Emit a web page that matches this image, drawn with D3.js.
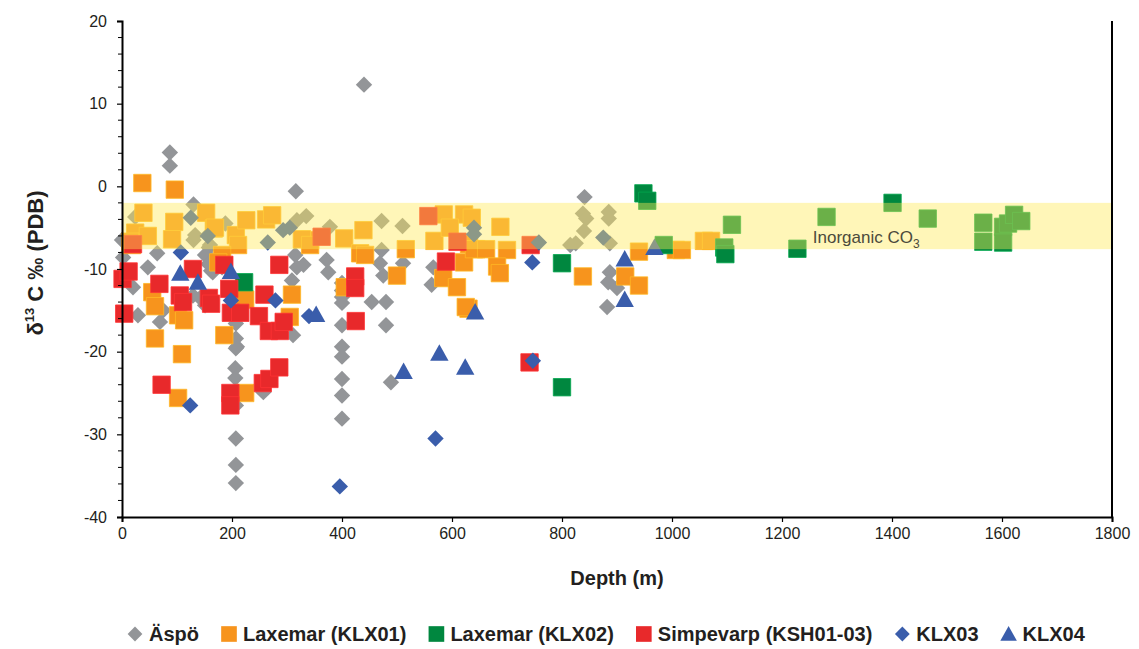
<!DOCTYPE html>
<html>
<head>
<meta charset="utf-8">
<script src="https://cdn.jsdelivr.net/npm/d3@7"></script>
<style>
  html, body { margin: 0; padding: 0; background: #ffffff; }
  svg { display: block; font-family: Arial, "Liberation Sans", sans-serif; }
</style>
</head>
<body>
<svg id="chart" width="1139" height="649"></svg>
<script>
// δ13C of fracture calcites / DIC versus depth, Simpevarp area
// Each series: [depth (m), δ13C ‰ PDB]
const aspo = [
  [87, 4.1], [87, 2.5], [316, -0.6], [440, 12.3], [841, -1.3],
  [130, -2.2], [24, -3.7], [0, -6.5], [2, -8.6], [130, -6.5], [160, -7.1], [188, -4.5],
  [64, -8.1], [155, -8.3], [133, -5.9], [156, -5.9], [158, -7.4], [335, -3.6], [318, -4.1],
  [315, -8.3], [318, -9.8], [151, -8.3], [162, -10.2],
  [20, -12.2], [47, -9.8], [29, -15.6], [69, -16.4], [75, -15.0], [157, -9.4], [165, -10.4],
  [142, -13.5], [129, -13.2], [151, -14.4], [182, -9.8], [209, -19.4], [206, -22.0],
  [206, -23.2], [207, -16.6], [207, -18.4], [207, -19.6], [207, -26.5], [207, -30.5],
  [207, -33.7], [207, -35.9], [257, -24.9], [311, -18.0], [309, -11.4], [375, -10.4],
  [400, -11.7], [400, -12.6], [400, -13.4], [400, -14.1], [400, -16.8], [400, -19.4],
  [400, -20.6], [400, -23.3], [400, -25.3], [400, -28.1], [454, -14.0], [480, -14.0],
  [480, -16.8], [489, -23.7], [563, -11.9], [475, -10.8], [372, -8.9], [469, -9.3],
  [511, -9.3], [330, -9.5], [566, -9.8], [472, -4.2], [510, -4.8], [378, -4.9],
  [472, -7.7], [838, -3.3], [844, -3.9], [840, -5.4], [885, -3.1], [885, -3.9], [815, -7.1],
  [825, -6.9], [887, -6.9], [887, -10.4], [884, -11.6], [900, -12.3], [882, -14.6]
];
const klx01 = [
  [37, 0.4], [96, -0.4], [39, -3.2], [95, -4.3], [153, -3.2], [167, -5.1], [24, -5.6],
  [47, -6.0], [15, -6.7], [18, -7.1], [91, -6.4], [55, -12.8], [60, -14.5], [60, -18.4],
  [102, -15.6], [113, -16.2], [109, -20.3], [102, -25.6], [186, -18.0], [220, -12.8],
  [309, -13.1], [305, -15.8], [224, -25.0], [224, -13.7], [405, -12.2], [500, -10.8],
  [584, -11.1], [609, -12.2], [630, -14.8], [342, -6.5], [439, -5.3], [404, -6.3],
  [433, -8.1], [442, -8.3], [516, -7.6], [568, -6.6], [585, -3.4], [622, -3.4], [636, -3.8],
  [596, -5.0], [631, -7.0], [644, -7.6], [622, -9.2], [688, -4.9], [700, -7.7], [640, -7.6],
  [662, -7.6], [682, -9.7], [687, -10.5], [625, -14.6], [838, -10.9], [915, -10.9],
  [940, -12.0], [940, -7.9], [1007, -7.7], [1018, -7.7], [1058, -6.6], [1071, -6.6],
  [207, -5.9], [211, -7.1], [226, -4.1], [262, -4.0], [273, -3.5], [327, -6.4], [342, -7.1],
  [182, -8.3], [175, -9.2], [169, -5.0]
];
const klx02 = [
  [222, -11.6], [948, -0.85], [955, -1.75], [800, -24.3], [800, -9.3], [985, -7.1],
  [1109, -4.65], [1095, -7.4], [1097, -8.2], [1228, -7.55], [1281, -3.7], [1401, -2.0],
  [1465, -3.9], [1566, -4.4], [1566, -6.7], [1602, -4.9], [1602, -6.8], [1611, -4.5],
  [1622, -3.45], [1635, -4.2]
];
const simpevarp = [
  [1, -11.2], [12, -10.3], [4, -15.4], [68, -11.8], [105, -13.2], [111, -14.0], [129, -10.0],
  [158, -13.5], [162, -14.2], [186, -9.5], [195, -12.4], [198, -15.3], [215, -15.3],
  [72, -24.0], [197, -25.0], [197, -26.5], [256, -23.8], [268, -23.3], [286, -21.9],
  [259, -13.1], [249, -15.7], [267, -17.5], [287, -17.5], [294, -16.4], [286, -9.5],
  [424, -10.9], [424, -12.3], [425, -16.3], [589, -9.1], [557, -3.6], [610, -6.7],
  [363, -6.1], [743, -7.1], [741, -21.3], [20, -7.0]
];
const klx03 = [
  [124, -26.5], [198, -13.8], [279, -13.8], [340, -15.7], [570, -30.5], [396, -36.3],
  [747, -21.1], [875, -6.2], [640, -5.0], [640, -5.8], [758, -6.8], [746, -9.2],
  [125, -3.8], [156, -6.0], [107, -8.0], [265, -6.8], [293, -5.3], [305, -5.0]
];
const klx04 = [
  [106, -10.5], [138, -11.6], [198, -10.3], [353, -15.5], [512, -22.4], [577, -20.2],
  [624, -21.9], [642, -15.2], [914, -8.8], [914, -13.7], [968, -7.4]
];

const xTicks = [0, 200, 400, 600, 800, 1000, 1200, 1400, 1600, 1800];
const yTicks = [-40, -30, -20, -10, 0, 10, 20];
const bandRange = [-2, -7.6];   // inorganic CO3 field

const series = [
  { name: "Äspö",                  data: aspo,      shape: "diamond",  color: "#939598" },
  { name: "Laxemar (KLX01)",       data: klx01,     shape: "square",   color: "#F7941D" },
  { name: "Laxemar (KLX02)",       data: klx02,     shape: "square",   color: "#00873F" },
  { name: "Simpevarp (KSH01-03)",  data: simpevarp, shape: "square",   color: "#E8292B" },
  { name: "KLX03",                 data: klx03,     shape: "diamond",  color: "#3A5DAB" },
  { name: "KLX04",                 data: klx04,     shape: "triangle", color: "#3A5DAB" }
];

const svg = d3.select("#chart");
const x = d3.scaleLinear().domain([0, 1800]).range([122, 1112]);
const y = d3.scaleLinear().domain([-40, 20]).range([517, 21]);

function markerPath(shape) {
  if (shape === "square") return "M-8.7,-8.7H8.7V8.7H-8.7Z";
  if (shape === "diamond") return "M0,-8.2L8.2,0L0,8.2L-8.2,0Z";
  return "M0,-9L9.2,7.5H-9.2Z";
}

// points
const plot = svg.append("g");
series.forEach(s => {
  plot.append("g").selectAll("path").data(s.data).join("path")
    .attr("d", markerPath(s.shape))
    .attr("transform", d => `translate(${x(d[0])},${y(d[1])})`)
    .attr("fill", s.color)
    .attr("stroke", s.shape === "square" ? d3.color(s.color).brighter(0.6) : "none")
    .attr("stroke-width", 0.8);
});

// inorganic CO3 band laid over the points
svg.append("rect")
  .attr("x", x(0)).attr("width", x(1800) - x(0))
  .attr("y", y(bandRange[0])).attr("height", y(bandRange[1]) - y(bandRange[0]))
  .attr("fill", "rgb(255,234,85)").attr("opacity", 0.42);

const lab = svg.append("text")
  .attr("x", x(1256)).attr("y", y(-6.9))
  .attr("font-size", 17).attr("fill", "#4b4a3c");
lab.append("tspan").text("Inorganic CO");
lab.append("tspan").attr("dy", 5).attr("font-size", 12).text("3");

// axes
const plain = d => String(d);
const yAxis = d3.axisLeft(y).tickValues(yTicks).tickSize(5).tickPadding(10).tickFormat(plain);
const gy = svg.append("g").attr("transform", `translate(${x(0)},0)`).call(yAxis);
const yMinor = d3.range(-38, 20, 2).filter(v => v % 10 !== 0);
gy.selectAll(".minor").data(yMinor).join("line").attr("class", "minor")
  .attr("x1", -4).attr("x2", 0).attr("y1", d => y(d)).attr("y2", d => y(d)).attr("stroke", "#000");

const xAxis = d3.axisBottom(x).tickValues(xTicks).tickSize(5).tickPadding(6).tickFormat(plain);
const gx = svg.append("g").attr("transform", `translate(0,${y(-40)})`).call(xAxis);

[gx, gy].forEach(g => {
  g.select(".domain").attr("stroke", "#000").attr("stroke-width", 2);
  g.selectAll(".tick line").attr("stroke", "#000").attr("stroke-width", 1.2);
  g.selectAll(".tick text").attr("font-size", 16).attr("fill", "#231f20")
    .attr("font-family", "Arial, 'Liberation Sans', sans-serif");
});
svg.append("line").attr("x1", x(1800)).attr("x2", x(1800)).attr("y1", y(20)).attr("y2", y(-40))
  .attr("stroke", "#000").attr("stroke-width", 2);

// axis titles
svg.append("text").attr("x", 617).attr("y", 585).attr("text-anchor", "middle")
  .attr("font-size", 20).attr("font-weight", "bold").attr("fill", "#231f20").text("Depth (m)");
const yt = svg.append("text").attr("transform", "translate(43,263) rotate(-90)")
  .attr("text-anchor", "middle").attr("font-size", 22).attr("font-weight", "bold").attr("fill", "#231f20");
yt.append("tspan").text("δ");
yt.append("tspan").attr("dy", -9).attr("font-size", 13).text("13");
yt.append("tspan").attr("dy", 9).text(" C ‰ (PDB)");

// legend
const legend = svg.append("g").attr("transform", "translate(0,634)");
let lx = 127;
series.forEach(s => {
  const item = legend.append("g").attr("transform", `translate(${lx},0)`);
  item.append("path").attr("d", markerPath(s.shape))
    .attr("transform", "translate(8,0) scale(0.9)")
    .attr("fill", s.color);
  const t = item.append("text").attr("x", 22).attr("y", 7).attr("font-size", 20)
    .attr("font-weight", "bold").attr("fill", "#231f20").text(s.name);
  lx += 22 + t.node().getComputedTextLength() + 22;
});
</script>
</body>
</html>
